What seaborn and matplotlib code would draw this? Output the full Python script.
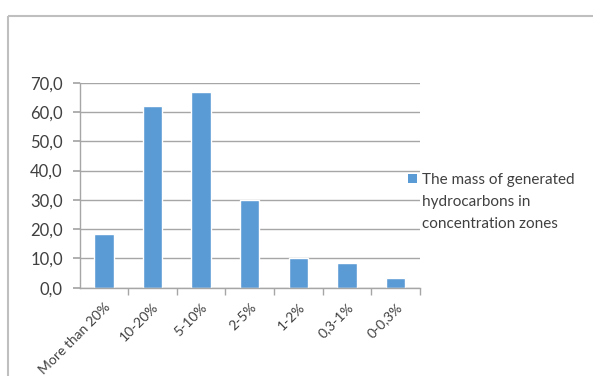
import matplotlib
matplotlib.use("Agg")
import matplotlib.pyplot as plt
import seaborn as sns
import pandas as pd
from matplotlib.patches import Rectangle
from matplotlib.ticker import FuncFormatter, MultipleLocator

categories = ["More than 20%", "10-20%", "5-10%", "2-5%", "1-2%", "0,3-1%", "0-0,3%"]
values = [18.5, 62.0, 66.7, 30.0, 10.0, 8.3, 3.2]
legend_lines = ["The mass of generated", "hydrocarbons in", "concentration zones"]

sns.set_theme(style="white")
plt.rcParams["font.family"] = ["Lato", "DejaVu Sans"]

df = pd.DataFrame({"zone": categories, "mass": values})
bar_color = "#5B9BD5"
text_color = "#404040"
line_color = "#A6A6A6"

fig = plt.figure(figsize=(5.93, 3.76), dpi=100)
ax = fig.add_axes([79.5 / 593, 1 - 287.7 / 376, (420 - 79.5) / 593, (287.7 - 82.7) / 376])

sns.barplot(data=df, x="zone", y="mass", color=bar_color, width=0.4, ax=ax,
            saturation=1)

ax.set_ylim(0, 70)
ax.set_xlim(-0.5, len(categories) - 0.5)
ax.yaxis.set_major_locator(MultipleLocator(10))
ax.yaxis.set_major_formatter(FuncFormatter(lambda v, p: f"{v:.1f}".replace(".", ",")))
ax.grid(axis="y", color=line_color, linewidth=1)
ax.set_axisbelow(True)
ax.set_xlabel("")
ax.set_ylabel("")

for s in ["top", "right"]:
    ax.spines[s].set_visible(False)
for s in ["left", "bottom"]:
    ax.spines[s].set_color(line_color)
    ax.spines[s].set_linewidth(1)

ax.tick_params(axis="y", which="both", left=True, length=5, color=line_color,
               labelsize=12, labelcolor=text_color, pad=7)
ax.set_xticks(range(len(categories)))
ax.set_xticklabels(categories, rotation=45, ha="right", rotation_mode="anchor",
                   fontsize=10, color=text_color)
ax.tick_params(axis="x", bottom=False, pad=3.5)
ax.set_xticks([i + 0.5 for i in range(len(categories))], minor=True)
ax.tick_params(axis="x", which="minor", bottom=True, length=5, color=line_color)

# legend: marker beside the first line only
handles = [Rectangle((0, 0), 1, 1, facecolor=bar_color, edgecolor="none")] + \
          [Rectangle((0, 0), 1, 1, facecolor="none", edgecolor="none")] * 2
leg = ax.legend(handles, legend_lines, loc="upper left",
                bbox_to_anchor=(408 / 593, 1 - 173 / 376),
                bbox_transform=fig.transFigure, frameon=False, fontsize=11,
                handlelength=0.6, handleheight=0.6, handletextpad=0.3,
                borderpad=0, borderaxespad=0, labelspacing=0.52)
for t in leg.get_texts():
    t.set_color(text_color)

# outer chart border
fig.patches.append(Rectangle((8, 360), 700, -400, transform=None,
                             fill=False, edgecolor="#BFBFBF", linewidth=1.5))

fig.savefig("out.png", dpi=100)
